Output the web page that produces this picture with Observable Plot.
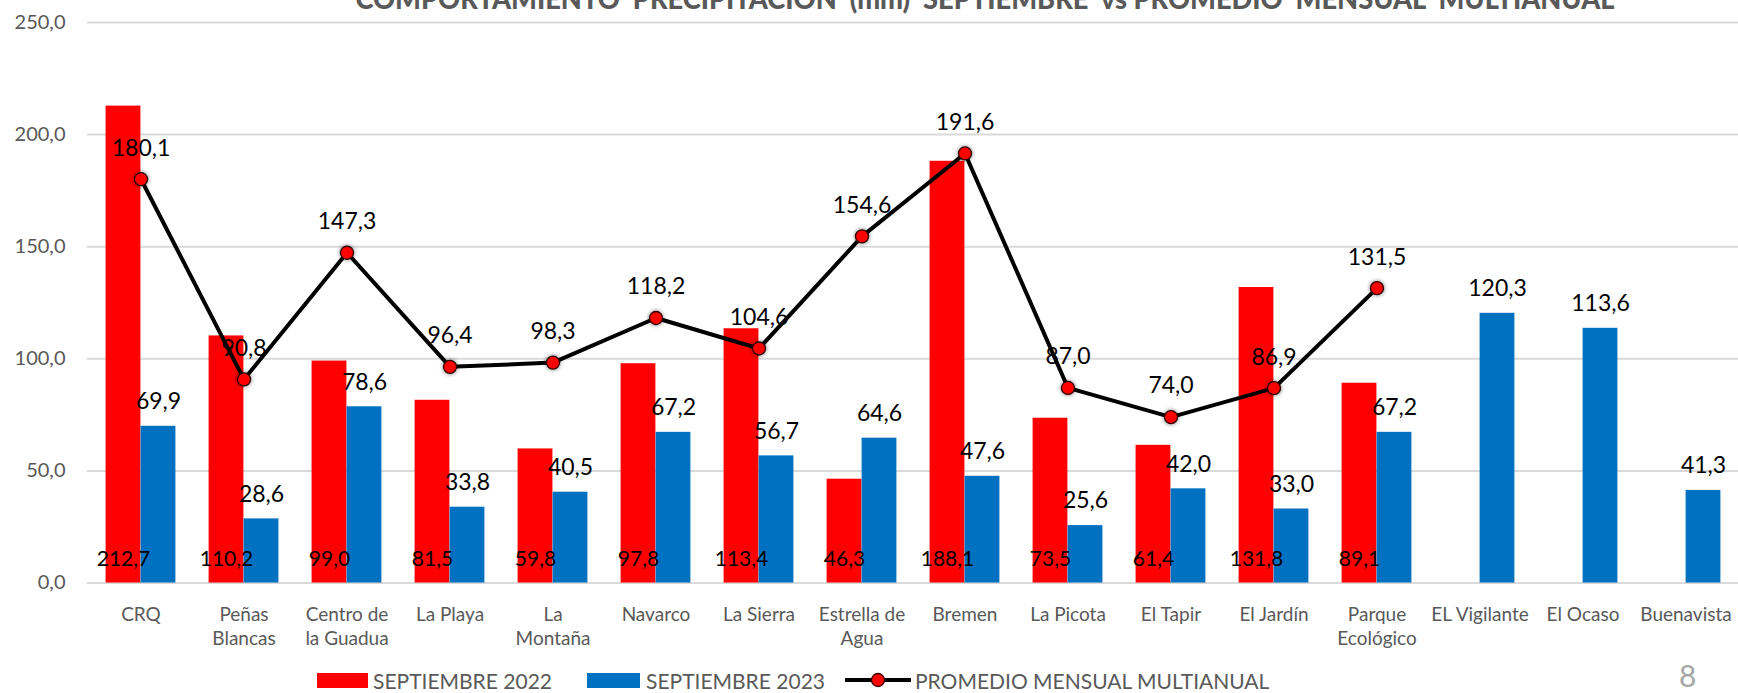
<!DOCTYPE html>
<html><head><meta charset="utf-8">
<script src="https://cdn.jsdelivr.net/npm/d3@7"></script>
<script src="https://cdn.jsdelivr.net/npm/@observablehq/plot@0.6"></script>
<style>
html,body{margin:0;padding:0;background:#fff;}
body{width:1738px;height:693px;overflow:hidden;position:relative;font-family:Lato,sans-serif;}
#chart{position:absolute;left:0;top:0;}
#title{position:absolute;left:0;top:0;}
.lg{position:absolute;font-family:Lato,sans-serif;font-size:21px;line-height:21px;color:#595959;white-space:nowrap;}
.sw{position:absolute;height:15px;}
#page{position:absolute;left:1679px;top:660px;font-family:Lato,sans-serif;font-size:30px;line-height:30px;color:#a6a6a6;}
#chart g[aria-label="dot"] circle{filter:drop-shadow(0 0 2px rgba(0,0,0,0.55));}
</style>
</head><body>
<div id="chart"></div>
<svg id="title" width="1738" height="30"><text x="985" y="9" text-anchor="middle" textLength="1259" lengthAdjust="spacingAndGlyphs" style="white-space:pre;font-family:Lato,sans-serif;font-weight:900;font-size:28px;fill:#595959">COMPORTAMIENTO  PRECIPITACION  (mm)  SEPTIEMBRE  vs PROMEDIO  MENSUAL  MULTIANUAL</text></svg>
<div id="legend"></div>
<div id="page">8</div>
<script>
const stations = ["CRQ","Peñas Blancas","Centro de la Guadua","La Playa","La Montaña","Navarco","La Sierra","Estrella de Agua","Bremen","La Picota","El Tapir","El Jardín","Parque Ecológico","EL Vigilante","El Ocaso","Buenavista"];
const tickLabels = ["CRQ","Peñas\nBlancas","Centro de\nla Guadua","La Playa","La\nMontaña","Navarco","La Sierra","Estrella de\nAgua","Bremen","La Picota","El Tapir","El Jardín","Parque\nEcológico","EL Vigilante","El Ocaso","Buenavista"];
const sep2022 = [212.7,110.2,99.0,81.5,59.8,97.8,113.4,46.3,188.1,73.5,61.4,131.8,89.1,null,null,null];
const sep2023 = [69.9,28.6,78.6,33.8,40.5,67.2,56.7,64.6,47.6,25.6,42.0,33.0,67.2,120.3,113.6,41.3];
const promedio = [180.1,90.8,147.3,96.4,98.3,118.2,104.6,154.6,191.6,87.0,74.0,86.9,131.5,null,null,null];
const yTicks = [0,50,100,150,200,250];
const seriesNames = ["SEPTIEMBRE 2022","SEPTIEMBRE 2023","PROMEDIO MENSUAL MULTIANUAL"];
const colors = ["#ff0000","#0070c0","#000000"];

const rows = stations.map((s,i)=>({station:s, v22:sep2022[i], v23:sep2023[i], avg:promedio[i]}));
const r22 = rows.filter(d=>d.v22!=null);
const rAvg = rows.filter(d=>d.avg!=null);
const fmt = v => d3.format(".1f")(v).replace(".", ",");

const W = 1738, H = 660, y0 = 582.5;
const chart = Plot.plot({
  width: W, height: H,
  marginLeft: 87, marginRight: 0, marginTop: 22, marginBottom: H - y0,
  x: {type: "band", domain: stations, padding: 0},
  y: {domain: [0, 250]},
  style: {fontFamily: "Lato, sans-serif", background: "white"},
  marks: [
    Plot.gridY(yTicks, {stroke: "#d9d9d9", strokeOpacity: 1, strokeWidth: 2}),
    Plot.axisY(yTicks, {tickFormat: fmt, tickSize: 0, tickPadding: 22, fontSize: 20, fill: "#595959", label: null}),
    Plot.axisX({tickSize: 0, tickPadding: 20, tickFormat: s => tickLabels[stations.indexOf(s)], fontSize: 19, fill: "#595959", lineHeight: 1.3, label: null}),
    Plot.barY(r22, {x: "station", y: "v22", fill: colors[0], insetLeft: 16.6, insetRight: 51.6}),
    Plot.barY(rows, {x: "station", y: "v23", fill: colors[1], insetLeft: 51.6, insetRight: 16.6}),
    Plot.line(rAvg, {x: "station", y: "avg", stroke: colors[2], strokeWidth: 4}),
    Plot.dot(rAvg, {x: "station", y: "avg", r: 6.5, fill: "#ff0000", stroke: "#300", strokeWidth: 1.3}),
    Plot.text(r22, {x: "station", y: () => 0, text: d => fmt(d.v22), dx: -17.5, dy: -23.5, fontSize: 21, fill: "#000"}),
    Plot.text(rows, {x: "station", y: "v23", text: d => fmt(d.v23), dx: 17.5, dy: -24.5, fontSize: 23, fill: "#000"}),
    Plot.text(rAvg, {x: "station", y: "avg", text: d => fmt(d.avg), dy: -31, fontSize: 23, fill: "#000"})
  ]
});
document.getElementById("chart").appendChild(chart);

// legend
const lg = document.getElementById("legend");
function add(html){ lg.insertAdjacentHTML("beforeend", html); }
add(`<div class="sw" style="left:317px;top:673px;width:51px;background:${colors[0]}"></div>`);
add(`<div class="lg" style="left:373px;top:670px">${seriesNames[0]}</div>`);
add(`<div class="sw" style="left:587px;top:673px;width:53px;background:${colors[1]}"></div>`);
add(`<div class="lg" style="left:646px;top:670px">${seriesNames[1]}</div>`);
add(`<svg style="position:absolute;left:845px;top:668px" width="68" height="24"><line x1="0" x2="66" y1="12" y2="12" stroke="#000" stroke-width="4"/><circle cx="33" cy="12" r="6.5" fill="#ff0000" stroke="#300" stroke-width="1.3"/></svg>`);
add(`<div class="lg" style="left:915px;top:670px">${seriesNames[2]}</div>`);
</script>
</body></html>
